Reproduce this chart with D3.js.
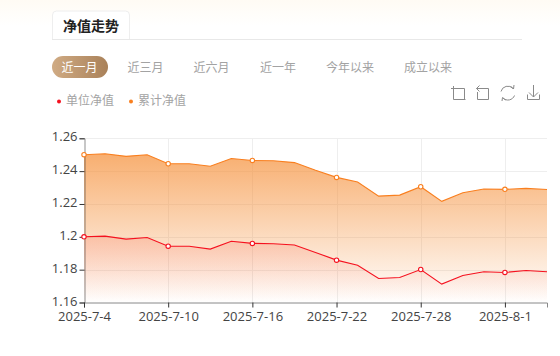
<!DOCTYPE html>
<html><head><meta charset="utf-8">
<script src="https://cdn.jsdelivr.net/npm/d3@7/dist/d3.min.js"></script>
<style>html,body{margin:0;padding:0;background:#fff;overflow:hidden}svg{display:block}</style>
</head><body><svg id="c" width="560" height="356"></svg>
<script>
const dates=["2025-7-4","2025-7-7","2025-7-8","2025-7-9","2025-7-10","2025-7-11","2025-7-14","2025-7-15","2025-7-16","2025-7-17","2025-7-18","2025-7-21","2025-7-22","2025-7-23","2025-7-24","2025-7-25","2025-7-28","2025-7-29","2025-7-30","2025-7-31","2025-8-1","2025-8-4","2025-8-5"];
const unitNav=[1.2,1.2004,1.1986,1.1996,1.1943,1.1943,1.1925,1.1973,1.196,1.1958,1.195,1.1905,1.1858,1.1827,1.1746,1.1752,1.1801,1.1712,1.1765,1.1787,1.1783,1.1795,1.1787];
const accNav=[1.25,1.2506,1.249,1.25,1.2445,1.2445,1.243,1.2477,1.2465,1.2463,1.2452,1.2405,1.2362,1.2334,1.2248,1.2254,1.2305,1.2216,1.2268,1.2291,1.2289,1.2295,1.2288];
const yTicks=[1.16,1.18,1.2,1.22,1.24,1.26];
const xTickIdx=[0,4,8,12,16,20];
const periods=["近一月","近三月","近六月","近一年","今年以来","成立以来"];
const periodX=[79.5,145.5,211.5,278,350,428];
const legend=["单位净值","累计净值"];
const legendColors=["#f5111f","#f97f1f"];
const font='"Noto Sans CJK SC","Noto Sans",sans-serif';
const latin='"Open Sans","Noto Sans",sans-serif';

const svg=d3.select("#c");
const defs=svg.append("defs");
function lg(id,stops,x2,y2){const g=defs.append("linearGradient").attr("id",id).attr("x1",0).attr("y1",0).attr("x2",x2).attr("y2",y2);
 stops.forEach(s=>g.append("stop").attr("offset",s[0]).attr("stop-color",s[1]).attr("stop-opacity",s[2]));return g;}
lg("bg",[[0,"#fffbf4",1],[1,"#ffffff",1]],0,1);
lg("pill",[[0,"#d0ab84",1],[1,"#a98159",1]],1,0);

svg.append("rect").attr("width",560).attr("height",26).attr("fill","url(#bg)");

// tab
svg.append("path").attr("d","M52.5 40V15a4 4 0 0 1 4-4h69a4 4 0 0 1 4 4v25").attr("fill","#fff").attr("stroke","#eeeeee");
svg.append("line").attr("x1",52).attr("x2",522).attr("y1",39.5).attr("y2",39.5).attr("stroke","#e8e8e8");
svg.append("text").attr("x",91).attr("y",31).attr("text-anchor","middle").attr("font-family",font).attr("font-size",14).attr("font-weight",700).attr("fill","#222").text("净值走势");

// period buttons
svg.append("rect").attr("x",52).attr("y",56).attr("width",56).attr("height",22).attr("rx",11).attr("fill","url(#pill)");
svg.selectAll("text.p").data(periods).join("text").attr("class","p")
 .attr("x",(d,i)=>periodX[i]).attr("y",72).attr("text-anchor","middle").attr("font-family",font).attr("font-size",12)
 .attr("fill",(d,i)=>i?"#a3a3a3":"#fff").text(d=>d);

// legend
[0,1].forEach(i=>{const x=[59,131][i];
 svg.append("circle").attr("cx",x).attr("cy",101.5).attr("r",2).attr("fill",legendColors[i]);
 svg.append("text").attr("x",x+7).attr("y",105).attr("font-family",font).attr("font-size",12).attr("fill","#a3a3a3").text(legend[i]);});

// toolbox icons
const ic=svg.append("g").attr("fill","none").attr("stroke","#8a8a8a").attr("stroke-width",1);
ic.append("path").attr("d","M451 88.5H464.5V100M453.5 86V99.5H465.5");
ic.append("path").attr("d","M477.5 92V99.5H488.5V88.5H476.5M479.5 85.5L476.5 88.5L479.5 91.5");
ic.append("path").attr("d","M501 91.5A7 7 0 0 1 513 88.5M514.5 95.5A7 7 0 0 1 503 98");
ic.append("path").attr("d","M510.5 86L513.5 89L514 85M505.5 100L502.5 97.5L502 101");
ic.append("path").attr("d","M533.5 85V97M529 92.5L533.5 97L538 92.5M527.5 94.5V99.5H539.5V94.5");

// chart
const x=d3.scalePoint().domain(dates).range([84,547]);
const y=d3.scaleLinear().domain([1.16,1.26]).range([302.5,138.3]);
const gAcc=defs.append("linearGradient").attr("id","gAcc").attr("gradientUnits","userSpaceOnUse").attr("x1",0).attr("x2",0).attr("y1",y(d3.max(accNav))).attr("y2",y(1.16));
[[0,"#f58f38",.72],[1,"#f58f38",0.0]].forEach(s=>gAcc.append("stop").attr("offset",s[0]).attr("stop-color",s[1]).attr("stop-opacity",s[2]));
const gUnit=defs.append("linearGradient").attr("id","gUnit").attr("gradientUnits","userSpaceOnUse").attr("x1",0).attr("x2",0).attr("y1",y(d3.max(unitNav))).attr("y2",y(1.16));
[[0,"#f5402a",.17],[1,"#f5402a",0.0]].forEach(s=>gUnit.append("stop").attr("offset",s[0]).attr("stop-color",s[1]).attr("stop-opacity",s[2]));

const grid=svg.append("g").attr("stroke","#eeeeee").attr("stroke-width",1);
yTicks.slice(1).forEach(t=>grid.append("line").attr("x1",84).attr("x2",547).attr("y1",Math.round(y(t))+.5).attr("y2",Math.round(y(t))+.5));
xTickIdx.slice(1).forEach(i=>{const p=Math.round(x(dates[i]))+.5;grid.append("line").attr("x1",p).attr("x2",p).attr("y1",138).attr("y2",302);});

const area=d3.area().x((d,i)=>x(dates[i])).y0(y(1.16)).y1(d=>y(d));
const line=d3.line().x((d,i)=>x(dates[i])).y(d=>y(d));
svg.append("path").attr("d",area(accNav)).attr("fill","url(#gAcc)");
svg.append("path").attr("d",area(unitNav)).attr("fill","url(#gUnit)");

// axes
const yAxis=d3.axisLeft(y).tickValues(yTicks).tickSize(5).tickPadding(2).tickFormat(d=>String(+d.toFixed(2)));
const gy=svg.append("g").attr("transform","translate(84.5,0)").call(yAxis);
const xAxis=d3.axisBottom(x).tickValues(xTickIdx.map(i=>dates[i])).tickSize(5).tickPadding(3);
const gx=svg.append("g").attr("transform","translate(0,302.5)").call(xAxis);
gx.selectAll("path").attr("stroke","#888");
gy.selectAll("path").attr("stroke","#333").attr("stroke-opacity",.55);
[gx,gy].forEach(g=>{g.selectAll("line").attr("stroke","#333");
 g.selectAll("text").attr("font-family",latin).attr("font-size",13).attr("fill","#444");});
gy.selectAll("text").attr("dy","0.2em");
gx.selectAll("text").attr("dy","0.8em");

[[accNav,"#f97f1f"],[unitNav,"#f5111f"]].forEach(([s,c])=>{
 svg.append("path").attr("d",line(s)).attr("fill","none").attr("stroke",c).attr("stroke-width",1.1);
 svg.selectAll(null).data(xTickIdx).join("circle").attr("cx",i=>x(dates[i])).attr("cy",i=>y(s[i])).attr("r",2.2).attr("fill","#fff").attr("stroke",c).attr("stroke-width",1.1);
});
</script></body></html>
